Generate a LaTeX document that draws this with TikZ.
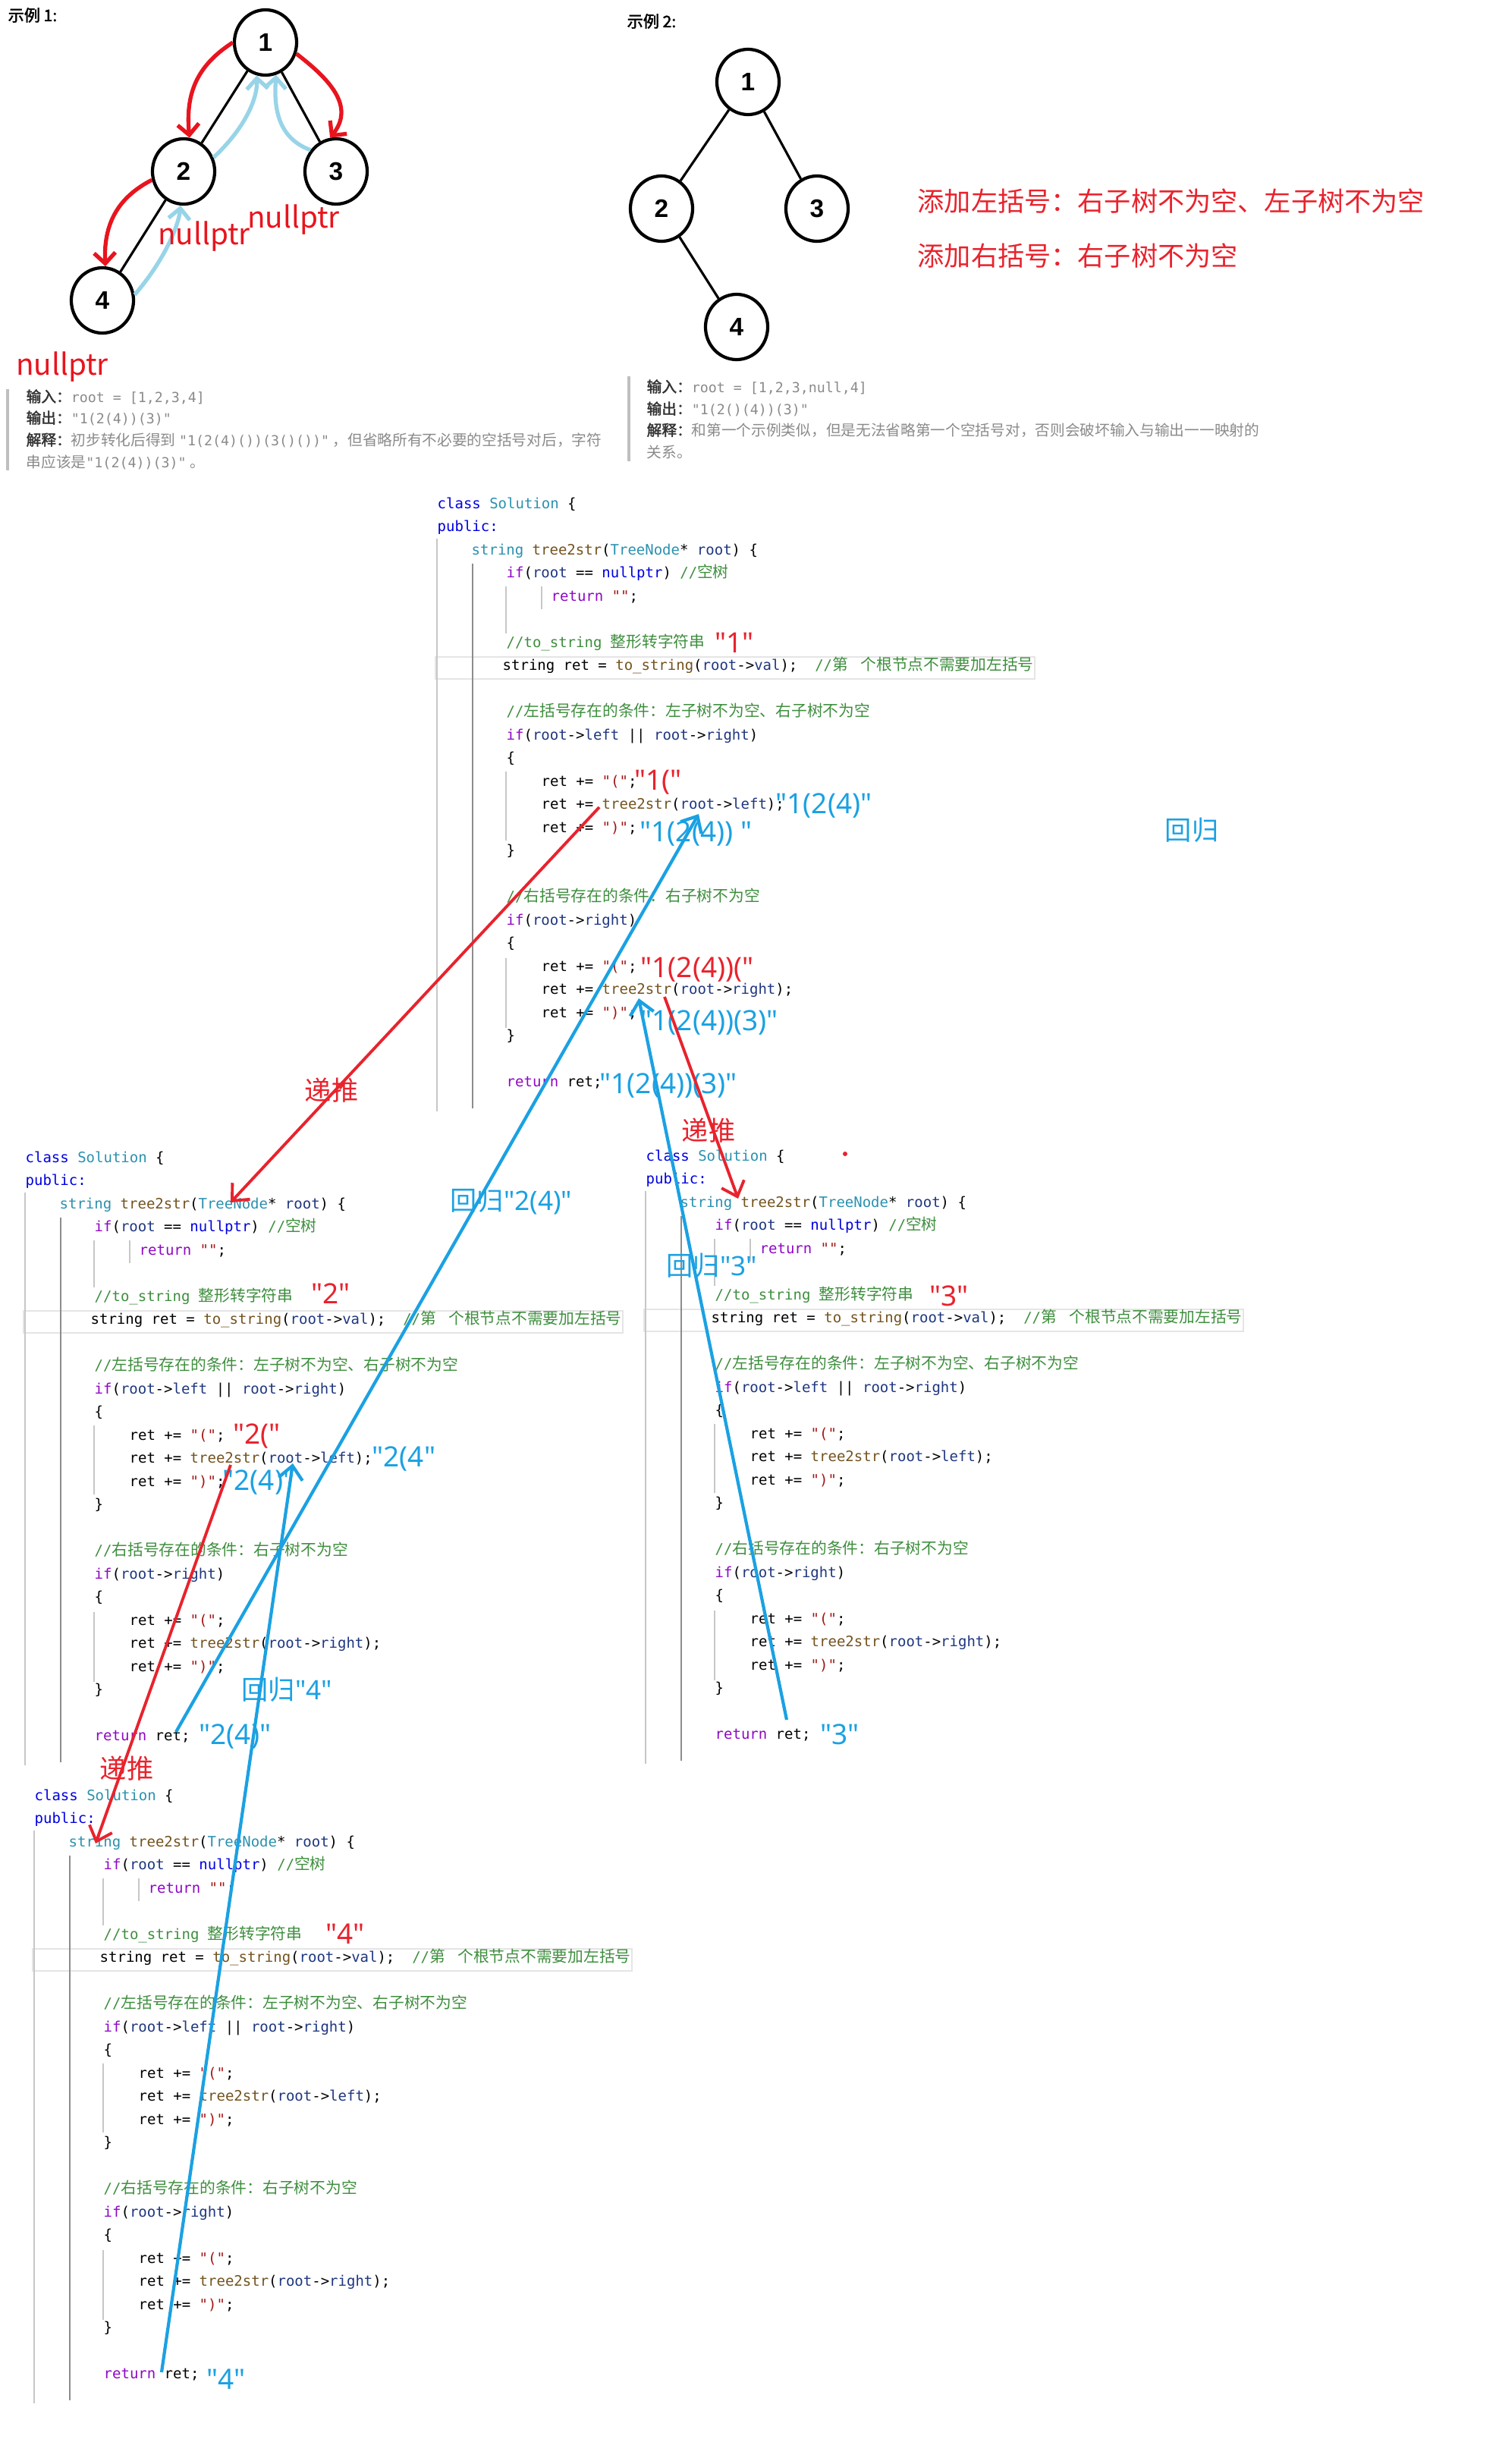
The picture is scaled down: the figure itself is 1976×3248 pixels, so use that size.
\documentclass[tikz,border=0pt]{standalone}
\usepackage{fontspec}
\setmainfont{Noto Sans CJK SC}[AutoFakeBold=2]
\setmonofont{DejaVu Sans Mono}
\newfontfamily\zhfont{Noto Sans CJK SC}
\newfontfamily\tagfont{Noto Sans}
\newfontfamily\digitfont{Liberation Sans}
\usetikzlibrary{arrows.meta, shapes.geometric}

\definecolor{annored}{HTML}{E8232D}
\definecolor{annoblue}{HTML}{1BA1E2}
\definecolor{treered}{HTML}{E8141E}
\definecolor{treeblue}{HTML}{98D4E8}
\definecolor{kwcol}{HTML}{8F08C4}
\definecolor{tycol}{HTML}{2B91AF}
\definecolor{fncol}{HTML}{74531F}
\definecolor{vrcol}{HTML}{1F377F}
\definecolor{cmcol}{HTML}{3E8E3E}
\definecolor{stcol}{HTML}{A31515}
\definecolor{blcol}{HTML}{0000E0}
\definecolor{infogray}{HTML}{8A8A8A}

% code colouring
\newcommand\ckw[1]{\textcolor{kwcol}{#1}}
\newcommand\cty[1]{\textcolor{tycol}{#1}}
\newcommand\cfn[1]{\textcolor{fncol}{#1}}
\newcommand\cvr[1]{\textcolor{vrcol}{#1}}
\newcommand\ccm[1]{\textcolor{cmcol}{#1}}
\newcommand\cst[1]{\textcolor{stcol}{#1}}
\newcommand\cbl[1]{\textcolor{blcol}{#1}}
\newcommand\zh[1]{{\zhfont\fontsize{5.9}{6}\selectfont #1}}
\newcommand\infomono[1]{{\ttfamily\fontsize{5.2}{6}\selectfont #1}}

\tikzset{
  code/.style={anchor=west, inner sep=0pt, text height=4.3pt, text depth=1.3pt,
    font=\ttfamily\fontsize{5.4}{6}\selectfont},
  guide/.style={draw=black!22, line width=0.5pt},
  guidedark/.style={draw=black!45, line width=0.6pt},
  hlbox/.style={draw=black!10, line width=0.7pt},
  tag/.style={anchor=west, inner sep=0pt, font=\tagfont\fontsize{10.5}{11}\selectfont},
  redtag/.style={tag, text=annored},
  bluetag/.style={tag, text=annoblue},
  word/.style={inner sep=0pt, font=\fontsize{10}{11}\selectfont},
  redword/.style={word, text=annored},
  blueword/.style={word, text=annoblue},
  push/.style={draw=annored, line width=1.1pt, -{Straight Barb[length=5pt,width=9pt]}},
  back/.style={draw=annoblue, line width=1.2pt, -{Straight Barb[length=5pt,width=9pt]}},
  treenode/.style={ellipse, draw, line width=1.2pt, minimum width=8.2mm, minimum height=8.6mm,
    inner sep=0pt, font=\digitfont\bfseries\fontsize{9.5}{10}\selectfont},
  edge/.style={line width=0.9pt},
  pushcurve/.style={draw=treered, line width=1.5pt, -{Straight Barb[length=4pt,width=8pt]}},
  backcurve/.style={draw=treeblue, line width=1.5pt, -{Straight Barb[length=4pt,width=8pt]}},
  nulltag/.style={inner sep=0pt, text=treered, font=\fontsize{11}{12}\selectfont},
  info/.style={anchor=west, inner sep=0pt, text=infogray, font=\fontsize{5.6}{6}\selectfont},
  infobar/.style={draw=black!25, line width=1pt},
  extitle/.style={anchor=west, inner sep=0pt, font=\bfseries\fontsize{6}{7}\selectfont},
  rule/.style={anchor=west, inner sep=0pt, text=annored, font=\fontsize{10}{11}\selectfont}
}

\newcommand\codeline[4]{\node[code] (#1-l#2) at ({#3},{30.5*#2}) {#4};}

% one copy of the tree2str listing, "class" at (#2,#3)
\newcommand\codeblock[3]{%
\begin{scope}[shift={(#2,#3)}]
  \draw[hlbox] (-2,201) rectangle (788,230);
  \draw[guide] (0,45) -- (0,800);
  \draw[guidedark] (47,78) -- (47,796);
  \draw[guide] (91,108) -- (91,170) (138,108) -- (138,138)
    (91,352) -- (91,443) (91,598) -- (91,690);
  \codeline{#1}{0}{0}{\cbl{class} \cty{Solution} \{}
  \codeline{#1}{1}{0}{\cbl{public:}}
  \codeline{#1}{2}{45}{\cty{string} \cfn{tree2str}(\cty{TreeNode}* \cvr{root}) \{}
  \codeline{#1}{3}{91}{\ckw{if}(\cvr{root} == \cbl{nullptr}) \ccm{//\zh{空树}}}
  \codeline{#1}{4}{150}{\ckw{return} \cst{""};}
  \codeline{#1}{6}{91}{\ccm{//to\_string \zh{整形转字符串}}}
  \codeline{#1}{7}{86}{string ret = \cfn{to\_string}(\cvr{root}->\cvr{val});\ \ \ccm{//\zh{第\hspace{0.8em}个根节点不需要加左括号}}}
  \codeline{#1}{9}{91}{\ccm{//\zh{左括号存在的条件：左子树不为空、右子树不为空}}}
  \codeline{#1}{10}{91}{\ckw{if}(\cvr{root}->\cvr{left} || \cvr{root}->\cvr{right})}
  \codeline{#1}{11}{91}{\{}
  \codeline{#1}{12}{137}{ret += \cst{"("};}
  \codeline{#1}{13}{137}{ret += \cfn{tree2str}(\cvr{root}->\cvr{left});}
  \codeline{#1}{14}{137}{ret += \cst{")"};}
  \codeline{#1}{15}{91}{\}}
  \codeline{#1}{17}{91}{\ccm{//\zh{右括号存在的条件：右子树不为空}}}
  \codeline{#1}{18}{91}{\ckw{if}(\cvr{root}->\cvr{right})}
  \codeline{#1}{19}{91}{\{}
  \codeline{#1}{20}{137}{ret += \cst{"("};}
  \codeline{#1}{21}{137}{ret += \cfn{tree2str}(\cvr{root}->\cvr{right});}
  \codeline{#1}{22}{137}{ret += \cst{")"};}
  \codeline{#1}{23}{91}{\}}
  \codeline{#1}{25}{91}{\ckw{return} ret;}
\end{scope}}

\begin{document}
\begin{tikzpicture}[x=0.01cm, y=-0.01cm]
\useasboundingbox (0,0) rectangle (1976,3248);

% example 1
\node[extitle] (ex1) at (10,20) {示例 1:};
\node[treenode] (t1-1) at (350,56) {1};
\node[treenode] (t1-2) at (242,226) {2};
\node[treenode] (t1-3) at (443,226) {3};
\node[treenode] (t1-4) at (135,396) {4};
\draw[edge] (t1-1) -- (t1-2);
\draw[edge] (t1-1) -- (t1-3);
\draw[edge] (t1-2) -- (t1-4);
\draw[pushcurve] (t1-1.west) .. controls (262,85) and (244,120) .. (t1-2.80);
\draw[pushcurve] (t1-1.-20) .. controls (435,105) and (468,140) .. (t1-3.100);
\draw[pushcurve] (t1-2.195) .. controls (160,258) and (136,290) .. (t1-4.85);
\draw[backcurve] (t1-2.25) .. controls (322,170) and (340,130) .. (t1-1.-105);
\draw[backcurve] (t1-3.140) .. controls (360,180) and (362,130) .. (t1-1.-72);
\draw[backcurve] (t1-4.10) .. controls (215,345) and (235,300) .. (t1-2.-95);
\node[nulltag] (null1) at (269,312) {nullptr};
\node[nulltag] (null2) at (387,290) {nullptr};
\node[nulltag] (null3) at (82,484) {nullptr};
\draw[infobar] (10,513) -- (10,620);
\node[info] (in1) at (34,523) {\textcolor{black!80}{\bfseries 输入：}\infomono{root = [1,2,3,4]}};
\node[info] (out1) at (34,551) {\textcolor{black!80}{\bfseries 输出：}\infomono{"1(2(4))(3)"}};
\node[info] (why1) at (34,580) {\textcolor{black!80}{\bfseries 解释：}初步转化后得到 \infomono{"1(2(4)())(3()())"} ，但省略所有不必要的空括号对后，字符};
\node[info] (why1b) at (34,609) {串应该是\infomono{"1(2(4))(3)"} 。};

% example 2
\node[extitle] (ex2) at (826,28) {示例 2:};
\node[treenode] (t2-1) at (986,108) {1};
\node[treenode] (t2-2) at (872,275) {2};
\node[treenode] (t2-3) at (1077,275) {3};
\node[treenode] (t2-4) at (971,431) {4};
\draw[edge] (t2-1) -- (t2-2);
\draw[edge] (t2-1) -- (t2-3);
\draw[edge] (t2-2) -- (t2-4);
\node[rule] (ruleL) at (1209,265) {添加左括号：右子树不为空、左子树不为空};
\node[rule] (ruleR) at (1209,337) {添加右括号：右子树不为空};
\draw[infobar] (829,496) -- (829,608);
\node[info] (in2) at (852,510) {\textcolor{black!80}{\bfseries 输入：}\infomono{root = [1,2,3,null,4]}};
\node[info] (out2) at (852,539) {\textcolor{black!80}{\bfseries 输出：}\infomono{"1(2()(4))(3)"}};
\node[info] (why2) at (852,567) {\textcolor{black!80}{\bfseries 解释：}和第一个示例类似，但是无法省略第一个空括号对，否则会破坏输入与输出一一映射的};
\node[info] (why2b) at (852,596) {关系。};

% the four calls
\codeblock{A}{576}{665}
\codeblock{B}{33}{1527}
\codeblock{C}{851}{1525}
\codeblock{D}{45}{2368}

% values of ret
\node[redtag] (A-s1) at (942,847) {"1"};
\node[redtag] (A-s2) at (836,1031) {"1("};
\node[bluetag] (A-s3) at (1022,1062) {"1(2(4)"};
\node[bluetag] (A-s4) at (843,1099) {"1(2(4)) "};
\node[redtag] (A-s5) at (844,1278) {"1(2(4))("};
\node[bluetag] (A-s6) at (844,1348) {"1(2(4))(3)"};
\node[bluetag] (A-s7) at (790,1431) {"1(2(4))(3)"};
\node[blueword] (A-up) at (1571,1094) {回归};
\node[redword] (A-downL) at (437,1437) {递推};
\node[redword] (A-downR) at (934,1490) {递推};

\node[redtag] (B-s1) at (410,1705) {"2"};
\node[redtag] (B-s2) at (307,1893) {"2("};
\node[bluetag] (B-s3) at (490,1923) {"2(4"};
\node[bluetag] (B-s4) at (293,1954) {"2(4)"};
\node[bluetag] (B-s5) at (262,2289) {"2(4)"};
\node[blueword, anchor=west] (B-up) at (593,1584) {回归\tagfont"2(4)"};
\node[blueword, anchor=west] (B-up4) at (318,2227) {回归\tagfont"4"};
\node[redword] (B-down) at (167,2331) {递推};

\node[redtag] (C-s1) at (1225,1708) {"3"};
\node[bluetag] (C-s2) at (1081,2286) {"3"};
\node[blueword, anchor=west] (C-up) at (878,1668) {回归\tagfont"3"};
\fill[annored] (1114,1521) circle (3);

\node[redtag] (D-s1) at (429,2549) {"4"};
\node[bluetag] (D-s2) at (272,3136) {"4"};

% call and return points
\coordinate (A-callL) at (790,1064);
\coordinate (A-callR) at (876,1314);
\coordinate (A-retL) at (921,1073);
\coordinate (A-retR) at (842,1316);
\coordinate (B-entry) at (304,1585);
\coordinate (B-callL) at (304,1931);
\coordinate (B-retL) at (386,1929);
\coordinate (B-exit) at (232,2283);
\coordinate (C-entry) at (973,1580);
\coordinate (C-exit) at (1037,2267);
\coordinate (D-entry) at (126,2430);
\coordinate (D-exit) at (213,3127);

\draw[push] (A-callL) -- (B-entry);
\draw[push] (A-callR) -- (C-entry);
\draw[push] (B-callL) -- (D-entry);
\draw[back] (B-exit) -- (A-retL);
\draw[back] (C-exit) -- (A-retR);
\draw[back] (D-exit) -- (B-retL);
\end{tikzpicture}
\end{document}
